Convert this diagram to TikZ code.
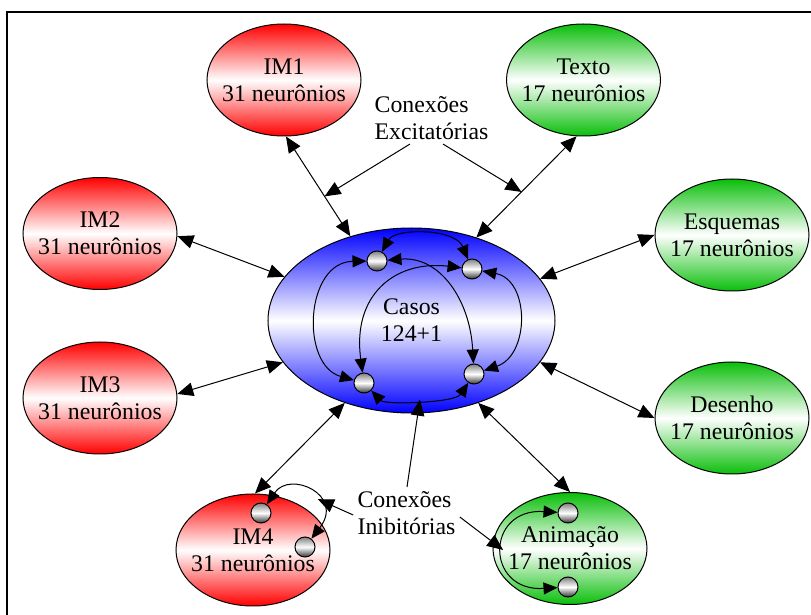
\documentclass[tikz,border=0pt]{standalone}
\usepackage{fontspec}
\setmainfont{Liberation Serif}
\usetikzlibrary{shapes.geometric,arrows.meta}
\definecolor{modred}{RGB}{255,0,0}
\definecolor{modgreen}{RGB}{10,190,10}
\definecolor{caseblue}{RGB}{0,0,255}
\begin{document}
\begin{tikzpicture}[x=0.5pt,y=-0.5pt,
  font=\fontsize{11.9pt}{13.5pt}\selectfont,
  module/.style={ellipse,draw=black,line width=0.5pt,minimum width=77pt,
    minimum height=56pt,inner sep=0pt},
  redmod/.style={module,top color=modred,bottom color=modred,middle color=white},
  greenmod/.style={module,top color=modgreen,bottom color=modgreen,middle color=white},
  casemod/.style={ellipse,draw=black,line width=0.5pt,minimum width=143.5pt,
    minimum height=92.5pt,inner sep=0pt,
    top color=caseblue,bottom color=caseblue,middle color=white},
  body/.style={label={[align=center,inner sep=0pt]center:#1}},
  neuron/.style={circle,draw=black,line width=0.5pt,minimum size=10pt,inner sep=0pt,
    top color=black!50,bottom color=black!80,middle color=white},
  link/.style={line width=0.5pt,{Triangle[length=8pt,width=6.8pt]}-{Triangle[length=8pt,width=6.8pt]}},
  pointer/.style={line width=0.5pt,-{Triangle[length=8pt,width=6.8pt]}},
  synapse/.style={line width=0.5pt,{Triangle[length=7pt,width=6pt]}-{Triangle[length=7pt,width=6pt]}},
  caption/.style={align=left,inner sep=2pt}]
\useasboundingbox (0,0) rectangle (811,615);
\clip (0,0) rectangle (811,615);

% outer frame
\draw[line width=1.2pt] (7,12) rectangle (840,650);

% modules
\node[redmod,body={IM1\\31 neurônios}] (im1) at (284,80) {};
\node[greenmod,body={Texto\\17 neurônios}] (texto) at (583.5,80) {};
\node[redmod,body={IM2\\31 neurônios}] (im2) at (100,233.5) {};
\node[redmod,body={IM3\\31 neurônios}] (im3) at (100,398) {};
\node[greenmod,body={Esquemas\\17 neurônios}] (esq) at (732,235) {};
\node[greenmod,body={Desenho\\17 neurônios}] (des) at (732,418) {};
\node[redmod,body={IM4\\31 neurônios}] (im4) at (253,550) {};
\node[greenmod,body={Animação\\17 neurônios}] (anim) at (570,548.5) {};
\node[casemod,body={Casos\\124+1}] (casos) at (411.5,320.5) {};

% excitatory links between the case module and the others
\draw[link] (im1.-88) -- coordinate[pos=0.6] (e1) (casos.126.4);
\draw[link] (texto.263.5) -- coordinate[pos=0.55] (e2) (casos.52.5);
\draw[link] (im2.-2) -- (casos.161.7);
\draw[link] (im3.3) -- (casos.198.3);
\draw[link] (esq.180) -- (casos.18.3);
\draw[link] (des.180) -- (casos.-18.3);
\draw[link] (im4.88) -- (casos.231.8);
\draw[link] (anim.90) -- (casos.-51.8);

% neurons inside the case module
\node[neuron] (n1) at (377,261) {};
\node[neuron] (n2) at (472,269) {};
\node[neuron] (n3) at (364,383) {};
\node[neuron] (n4) at (474,374) {};
\draw[synapse] (n1) .. controls (395,228) and (455,228) .. (n2);
\draw[synapse] (n3) .. controls (385,405) and (455,403) .. coordinate[pos=0.5] (bmid) (n4);
\draw[synapse] (n1) .. controls (305,262) and (300,365) .. (n3);
\draw[synapse] (n2) .. controls (530,280) and (530,355) .. (n4);
\draw[synapse] (n1) .. controls (440,256) and (470,300) .. (n4);
\draw[synapse] (n2) .. controls (395,260) and (352,295) .. (n3);

% neurons inside IM4
\node[neuron] (a1) at (261,513) {};
\node[neuron] (a2) at (305,547) {};
\draw[synapse] (a1) .. controls (290,470) and (345,495) .. coordinate[pos=0.62] (im4mid) (a2);

% neurons inside Animação
\node[neuron] (b1) at (568,513) {};
\node[neuron] (b2) at (568,587) {};
\draw[synapse] (b1) .. controls (485,508) and (485,592) .. coordinate[pos=0.5] (animmid) (b2);

% labels
\node[caption] (exc) at (431.5,118) {Conexões\\Excitatórias};
\draw[pointer] ([xshift=-10.75pt]exc.south) -- (e1);
\draw[pointer] ([xshift=5.75pt]exc.south) -- (e2);

\node[caption] (inh) at (406.5,513) {Conexões\\Inibitórias};
\draw[pointer] ([xshift=0.25pt]inh.north) -- (bmid);
\draw[pointer] ([yshift=-1pt]inh.west) -- (im4mid);
\draw[pointer] ([yshift=-2pt]inh.east) -- (animmid);
\end{tikzpicture}
\end{document}
